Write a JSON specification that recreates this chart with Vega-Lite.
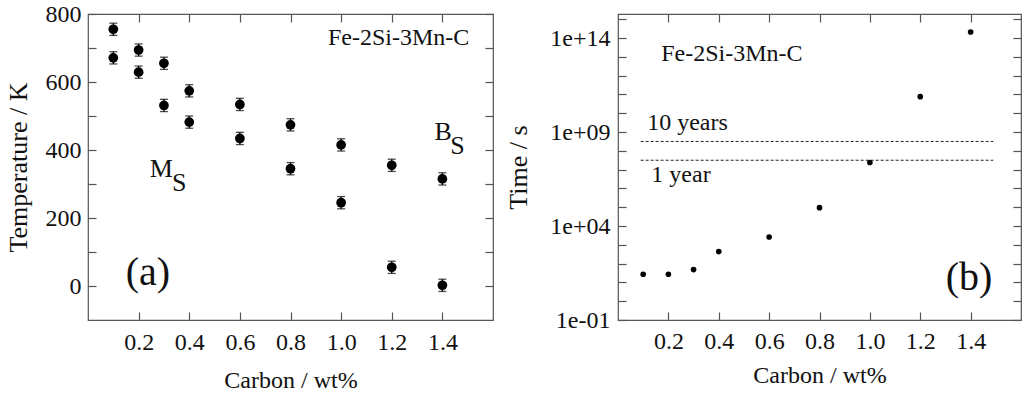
{
  "$schema": "https://vega.github.io/schema/vega-lite/v6.json",
  "padding": {"left": 4, "top": 1, "right": 4, "bottom": 0},
  "bounds": "flush",
  "spacing": 125,
  "config": {
    "font": "Liberation Serif",
    "view": {"stroke": "#555", "strokeWidth": 1.2},
    "axis": {
      "labelFont": "Liberation Serif", "titleFont": "Liberation Serif",
      "labelFontSize": 24, "titleFontSize": 24, "labelColor": "#111", "titleColor": "#111",
      "titleFontWeight": "normal", "domain": false, "grid": false,
      "tickColor": "#555", "tickWidth": 1.2, "labelOverlap": false
    },
    "text": {"font": "Liberation Serif", "color": "#111"}
  },
  "datasets": {
    "temps": [
      {"c": 0.1, "t": 755, "lo": 737, "hi": 773},
      {"c": 0.1, "t": 671, "lo": 653, "hi": 689},
      {"c": 0.2, "t": 694, "lo": 676, "hi": 712},
      {"c": 0.2, "t": 629, "lo": 611, "hi": 647},
      {"c": 0.3, "t": 655, "lo": 637, "hi": 673},
      {"c": 0.3, "t": 531, "lo": 513, "hi": 549},
      {"c": 0.4, "t": 574, "lo": 556, "hi": 592},
      {"c": 0.4, "t": 482, "lo": 464, "hi": 500},
      {"c": 0.6, "t": 534, "lo": 516, "hi": 552},
      {"c": 0.6, "t": 434, "lo": 416, "hi": 452},
      {"c": 0.8, "t": 474, "lo": 456, "hi": 492},
      {"c": 0.8, "t": 345, "lo": 327, "hi": 363},
      {"c": 1.0, "t": 415, "lo": 397, "hi": 433},
      {"c": 1.0, "t": 245, "lo": 227, "hi": 263},
      {"c": 1.2, "t": 355, "lo": 337, "hi": 373},
      {"c": 1.2, "t": 55, "lo": 37, "hi": 73},
      {"c": 1.4, "t": 315, "lo": 297, "hi": 333},
      {"c": 1.4, "t": 2, "lo": -16, "hi": 20}
    ],
    "times": [
      {"c": 0.1, "s": 27},
      {"c": 0.2, "s": 27},
      {"c": 0.3, "s": 48},
      {"c": 0.4, "s": 436},
      {"c": 0.6, "s": 2600},
      {"c": 0.8, "s": 95000},
      {"c": 1.0, "s": 24000000},
      {"c": 1.2, "s": 76000000000},
      {"c": 1.4, "s": 210000000000000}
    ],
    "limits": [
      {"c0": 0.09, "c1": 1.49, "s": 315360000, "name": "10 years"},
      {"c0": 0.09, "c1": 1.49, "s": 31536000, "name": "1 year"}
    ],
    "leftSmall": [
      {"c": 0.29, "t": 343, "label": "M"},
      {"c": 0.36, "t": 303, "label": "S"},
      {"c": 1.403, "t": 452, "label": "B"},
      {"c": 1.46, "t": 412, "label": "S"}
    ],
    "leftAlloy": [{"c": 1.227, "t": 729, "label": "Fe-2Si-3Mn-C"}],
    "leftPanel": [{"c": 0.237, "t": 38, "label": "(a)"}],
    "rightText": [
      {"c": 0.452, "s": 13500000000000, "label": "Fe-2Si-3Mn-C"},
      {"c": 0.276, "s": 2900000000, "label": "10 years"},
      {"c": 0.25, "s": 5100000, "label": "1 year"}
    ],
    "rightPanel": [{"c": 1.394, "s": 18, "label": "(b)"}]
  },
  "hconcat": [
    {
      "width": 405,
      "height": 306,
      "resolve": {"axis": {"x": "independent", "y": "independent"}},
      "layer": [
        {
          "data": {"name": "temps"},
          "mark": {"type": "rule", "color": "#000", "strokeWidth": 1.3},
          "encoding": {
            "x": {"field": "c", "type": "quantitative", "scale": {"domain": [0, 1.6], "nice": false, "zero": false},
              "axis": {"orient": "bottom", "values": [0.2, 0.4, 0.6, 0.8, 1.0, 1.2, 1.4], "format": ".1f", "ticks": false, "labelPadding": 10, "title": "Carbon / wt%", "titlePadding": 14}},
            "y": {"field": "lo", "type": "quantitative", "scale": {"domain": [-100, 800], "nice": false, "zero": false},
              "axis": {"orient": "left", "values": [0, 200, 400, 600, 800], "ticks": false, "labelPadding": 7, "title": "Temperature / K", "titleFontSize": 26, "titlePadding": 14}},
            "y2": {"field": "hi"}
          }
        },
        {
          "data": {"name": "temps"},
          "mark": {"type": "tick", "orient": "horizontal", "size": 8, "thickness": 1.3, "color": "#000"},
          "encoding": {
            "x": {"field": "c", "type": "quantitative", "axis": {"orient": "top", "values": [0.2, 0.4, 0.6, 0.8, 1.0, 1.2, 1.4], "labels": false, "tickSize": 8, "offset": -8, "title": null}},
            "y": {"field": "lo", "type": "quantitative", "axis": {"orient": "right", "values": [0, 100, 200, 300, 400, 500, 600, 700, 800], "labels": false, "tickSize": 8, "offset": -8, "title": null}}
          }
        },
        {
          "data": {"name": "temps"},
          "mark": {"type": "tick", "orient": "horizontal", "size": 8, "thickness": 1.3, "color": "#000"},
          "encoding": {
            "x": {"field": "c", "type": "quantitative", "axis": {"orient": "bottom", "values": [0.2, 0.4, 0.6, 0.8, 1.0, 1.2, 1.4], "labels": false, "tickSize": 8, "offset": -8, "title": null}},
            "y": {"field": "hi", "type": "quantitative", "axis": {"orient": "left", "values": [0, 100, 200, 300, 400, 500, 600, 700, 800], "labels": false, "tickSize": 8, "offset": -8, "title": null}}
          }
        },
        {
          "data": {"name": "temps"},
          "mark": {"type": "point", "shape": "circle", "filled": true, "size": 95, "color": "#000", "opacity": 1},
          "encoding": {
            "x": {"field": "c", "type": "quantitative", "axis": null},
            "y": {"field": "t", "type": "quantitative", "axis": null}
          }
        },
        {
          "data": {"name": "leftSmall"},
          "mark": {"type": "text", "fontSize": 26, "align": "center", "baseline": "middle"},
          "encoding": {
            "x": {"field": "c", "type": "quantitative", "axis": null},
            "y": {"field": "t", "type": "quantitative", "axis": null},
            "text": {"field": "label"}
          }
        },
        {
          "data": {"name": "leftAlloy"},
          "mark": {"type": "text", "fontSize": 24, "align": "center", "baseline": "middle"},
          "encoding": {
            "x": {"field": "c", "type": "quantitative", "axis": null},
            "y": {"field": "t", "type": "quantitative", "axis": null},
            "text": {"field": "label"}
          }
        },
        {
          "data": {"name": "leftPanel"},
          "mark": {"type": "text", "fontSize": 40, "align": "center", "baseline": "middle"},
          "encoding": {
            "x": {"field": "c", "type": "quantitative", "axis": null},
            "y": {"field": "t", "type": "quantitative", "axis": null},
            "text": {"field": "label"}
          }
        }
      ]
    },
    {
      "width": 403,
      "height": 306,
      "resolve": {"axis": {"x": "independent", "y": "independent"}},
      "layer": [
        {
          "data": {"name": "limits"},
          "mark": {"type": "rule", "color": "#222", "strokeWidth": 1, "strokeDash": [3, 2]},
          "encoding": {
            "x": {"field": "c0", "type": "quantitative", "scale": {"domain": [0, 1.6], "nice": false, "zero": false},
              "axis": {"orient": "top", "values": [0.2, 0.4, 0.6, 0.8, 1.0, 1.2, 1.4], "labels": false, "tickSize": 8, "offset": -8, "title": null}},
            "x2": {"field": "c1"},
            "y": {"field": "s", "type": "quantitative", "scale": {"type": "log", "domain": [0.1, 1900000000000000], "nice": false},
              "axis": {"orient": "right", "values": [0.1, 1, 10, 100, 1000, 10000, 100000, 1000000, 10000000, 100000000, 1000000000, 10000000000, 100000000000, 1000000000000, 10000000000000, 100000000000000, 1000000000000000], "labels": false, "tickSize": 8, "offset": -8, "title": null}}
          }
        },
        {
          "data": {"name": "times"},
          "mark": {"type": "point", "shape": "circle", "filled": true, "size": 32, "color": "#000", "opacity": 1},
          "encoding": {
            "x": {"field": "c", "type": "quantitative",
              "axis": {"orient": "bottom", "values": [0.2, 0.4, 0.6, 0.8, 1.0, 1.2, 1.4], "format": ".1f", "ticks": false, "labelPadding": 9, "title": "Carbon / wt%", "titlePadding": 10}},
            "y": {"field": "s", "type": "quantitative", "scale": {"type": "log"},
              "axis": {"orient": "left", "values": [0.1, 10000, 1000000000, 100000000000000],
                "labelExpr": "datum.value < 0.5 ? '1e-01' : (datum.value > 5000 && datum.value < 50000) ? '1e+04' : (datum.value > 500000000 && datum.value < 5000000000) ? '1e+09' : '1e+14'",
                "ticks": false, "labelPadding": 8, "title": "Time / s", "titleFontSize": 26, "titlePadding": 18}}
          }
        },
        {
          "data": {"name": "rightText"},
          "mark": {"type": "text", "fontSize": 24, "align": "center", "baseline": "middle"},
          "encoding": {
            "x": {"field": "c", "type": "quantitative", "axis": {"orient": "bottom", "values": [0.2, 0.4, 0.6, 0.8, 1.0, 1.2, 1.4], "labels": false, "tickSize": 8, "offset": -8, "title": null}},
            "y": {"field": "s", "type": "quantitative", "scale": {"type": "log"},
              "axis": {"orient": "left", "values": [0.1, 1, 10, 100, 1000, 10000, 100000, 1000000, 10000000, 100000000, 1000000000, 10000000000, 100000000000, 1000000000000, 10000000000000, 100000000000000, 1000000000000000], "labels": false, "tickSize": 8, "offset": -8, "title": null}},
            "text": {"field": "label"}
          }
        },
        {
          "data": {"name": "rightPanel"},
          "mark": {"type": "text", "fontSize": 40, "align": "center", "baseline": "middle"},
          "encoding": {
            "x": {"field": "c", "type": "quantitative", "axis": null},
            "y": {"field": "s", "type": "quantitative", "scale": {"type": "log"}, "axis": null},
            "text": {"field": "label"}
          }
        }
      ]
    }
  ]
}
